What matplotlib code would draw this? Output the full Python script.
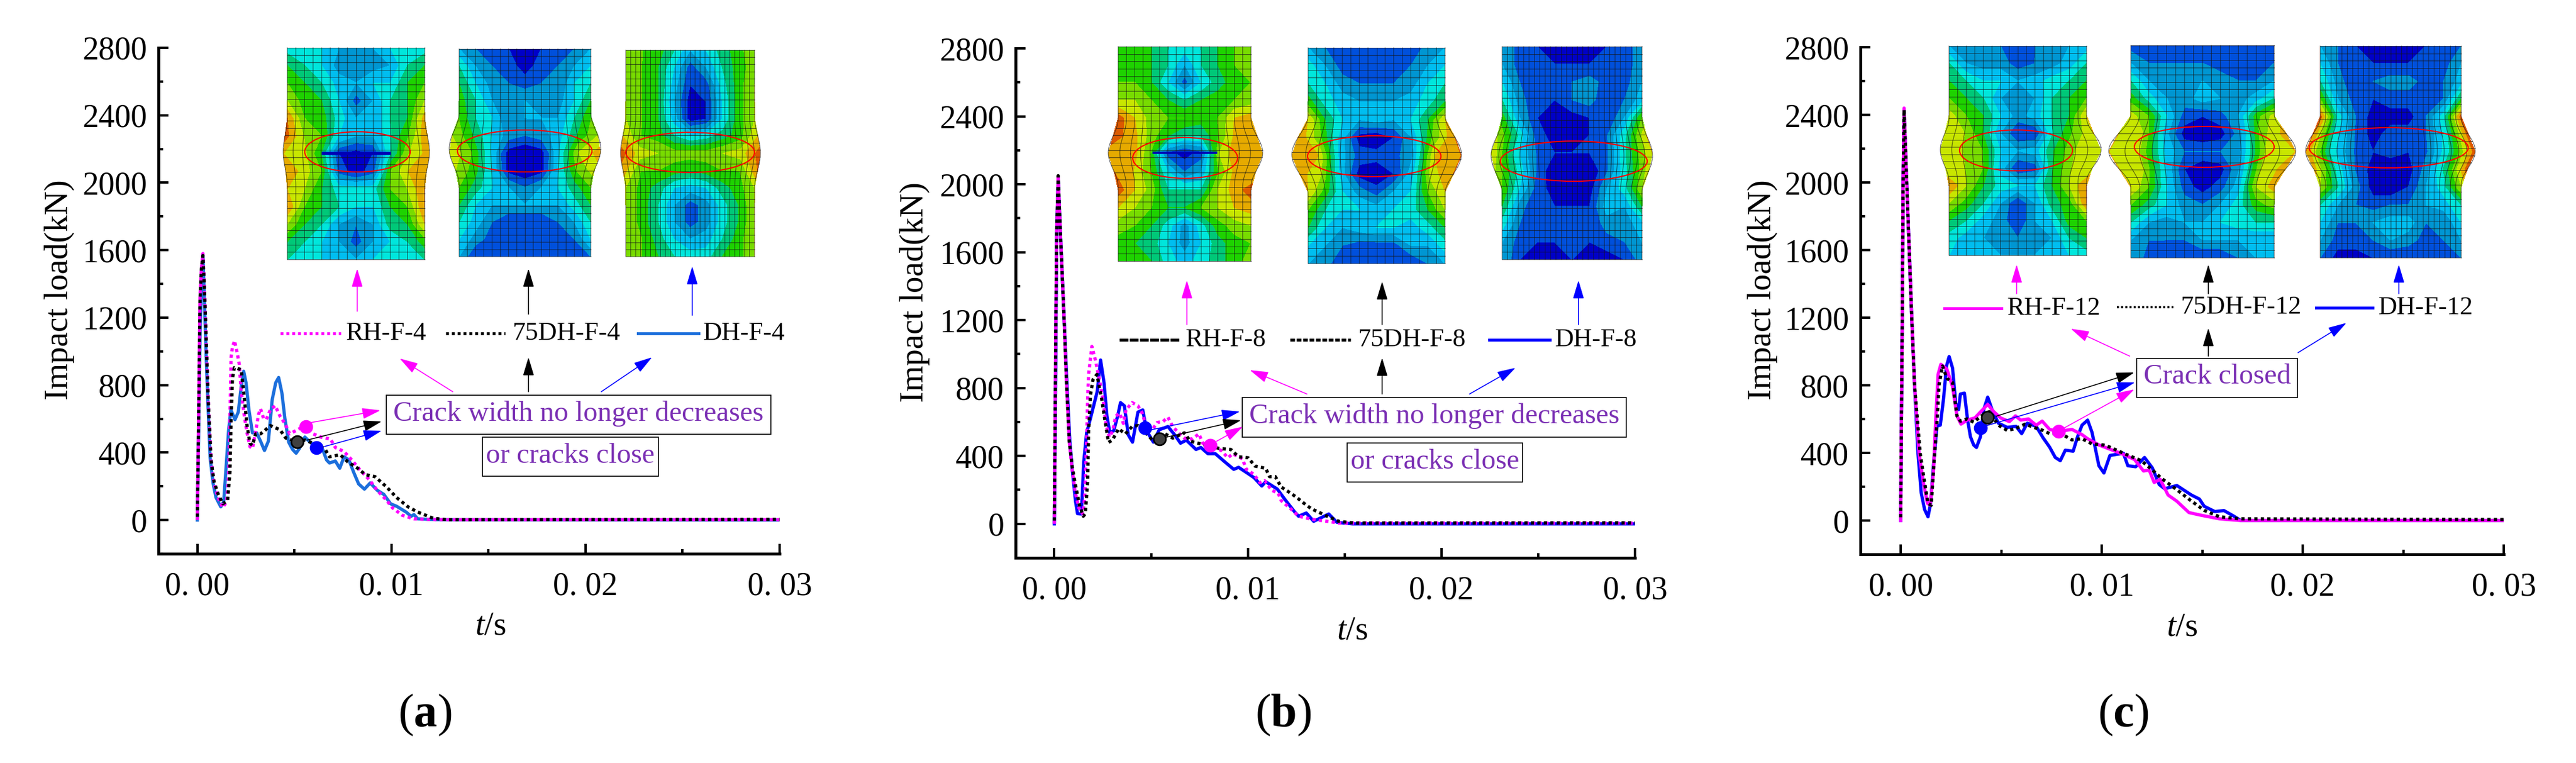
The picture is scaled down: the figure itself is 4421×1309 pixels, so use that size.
import matplotlib
matplotlib.use('Agg')
import matplotlib.pyplot as plt
import numpy as np
from matplotlib.colors import ListedColormap
from matplotlib.patches import Rectangle, Ellipse, FancyArrowPatch

plt.rcParams['font.family'] = ['Liberation Serif']
plt.rcParams['mathtext.fontset'] = 'custom'
plt.rcParams['mathtext.rm'] = 'Liberation Serif'
plt.rcParams['mathtext.it'] = 'Liberation Serif:italic'
plt.rcParams['mathtext.bf'] = 'Liberation Serif:bold'

W, H = 4421, 1309

# time in ms, load in kN
t_dh_4 = [0, .06, .14, .21, .29, .36, .46, .56, .66, .81, .96, 1.21, 1.36, 1.48, 1.61, 1.73, 1.94, 2.11, 2.26, 2.39, 2.51, 2.66, 2.84, 3.06, 3.26, 3.46, 3.66, 3.86, 4.04, 4.19, 4.36, 4.51, 4.71, 4.91, 5.09, 5.26, 5.54, 5.76, 6.14, 6.46, 6.66, 6.81, 7.11, 7.34, 7.56, 7.81, 8.06, 8.31, 8.61, 8.91, 9.26, 9.61, 9.96, 10.26, 10.76, 11.01, 11.16, 11.36, 12.36, 30]
p_dh_4 = [0, 467, 1086, 1382, 1574, 1333, 962, 653, 368, 220, 134, 78, 109, 307, 529, 653, 595, 640, 789, 882, 814, 653, 517, 517, 467, 412, 467, 715, 814, 845, 752, 603, 461, 418, 396, 424, 492, 467, 430, 418, 356, 338, 350, 307, 375, 356, 282, 214, 183, 220, 177, 152, 96, 82, 47, 22, 32, 7, 2, 0]
t_rh_4 = [0, .04, .09, .14, .21, .29, .36, .46, .56, .71, .86, 1.06, 1.31, 1.51, 1.61, 1.68, 1.74, 1.81, 1.92, 2.04, 2.16, 2.26, 2.41, 2.56, 2.71, 2.84, 3.01, 3.16, 3.26, 3.41, 3.56, 3.76, 4.01, 4.26, 4.51, 4.76, 5.16, 5.56, 5.96, 6.36, 6.86, 7.11, 7.56, 7.96, 8.36, 8.86, 9.26, 9.71, 10.06, 10.56, 11.16, 12.36, 30]
p_rh_4 = [0, 344, 838, 1333, 1492, 1580, 1396, 1062, 716, 356, 220, 134, 74, 109, 257, 593, 964, 1026, 1063, 999, 925, 764, 628, 517, 435, 424, 529, 628, 659, 603, 597, 653, 678, 616, 573, 511, 535, 560, 511, 492, 480, 430, 406, 356, 300, 239, 177, 122, 72, 28, 7, 2, 2]
t_75_4 = [0, .04, .09, .14, .21, .29, .36, .46, .56, .71, .86, 1.06, 1.31, 1.56, 1.68, 1.74, 1.81, 1.91, 2.26, 2.41, 2.56, 2.71, 2.84, 3.01, 3.26, 3.46, 3.76, 4.26, 4.56, 5.11, 5.56, 5.96, 6.56, 6.81, 7.36, 7.76, 8.26, 8.66, 9.16, 9.76, 10.26, 10.86, 11.36, 12.16, 12.86, 30]
p_75_4 = [0, 344, 838, 1308, 1492, 1568, 1396, 1062, 716, 356, 228, 158, 96, 115, 282, 593, 838, 904, 892, 737, 563, 455, 443, 511, 511, 529, 560, 535, 486, 464, 474, 455, 424, 375, 387, 344, 307, 269, 257, 195, 134, 78, 47, 10, 2, 4]

t_rh_8 = [0, .04, .08, .12, .20, .32, .50, .62, .77, .90, 1.07, 1.27, 1.47, 1.57, 1.67, 1.72, 1.77, 1.94, 2.12, 2.32, 2.52, 2.67, 2.84, 3.02, 3.17, 3.37, 3.57, 3.70, 4.02, 4.32, 4.52, 4.72, 5.02, 5.32, 5.62, 5.87, 6.12, 6.42, 6.72, 7.12, 7.47, 7.67, 8.07, 8.62, 8.97, 9.22, 9.72, 9.92, 10.32, 10.62, 10.87, 11.22, 11.57, 11.72, 12.22, 12.62, 13.3, 14.1, 14.7, 30]
p_rh_8 = [0, 600, 1200, 1711, 2050, 1700, 1222, 855, 487, 340, 192, 94, 58, 156, 487, 732, 879, 1045, 965, 855, 732, 585, 511, 548, 634, 652, 591, 671, 714, 695, 658, 585, 548, 597, 603, 628, 573, 536, 505, 499, 530, 475, 462, 432, 389, 413, 383, 321, 291, 242, 254, 199, 180, 137, 88, 45, 27, 15, 5, 4]
t_dh_8 = [0, .05, .09, .12, .20, .32, .50, .64, .80, .95, 1.1, 1.2, 1.4, 1.52, 1.67, 1.87, 2.22, 2.39, 2.57, 2.72, 2.87, 3.07, 3.27, 3.42, 3.62, 3.82, 4.04, 4.32, 4.57, 4.77, 5.12, 5.42, 5.87, 6.22, 6.52, 6.82, 7.32, 7.57, 7.94, 8.32, 8.82, 9.27, 9.52, 9.92, 10.32, 10.72, 10.92, 11.52, 11.92, 12.42, 12.62, 13.02, 13.4, 14.18, 14.6, 15.4, 30]
p_dh_8 = [0, 600, 1200, 1711, 2040, 1700, 1222, 855, 487, 290, 130, 60, 58, 364, 536, 622, 781, 965, 830, 634, 536, 548, 634, 714, 695, 524, 481, 658, 671, 548, 481, 554, 573, 524, 475, 493, 438, 450, 413, 413, 364, 321, 333, 303, 272, 223, 248, 205, 143, 70, 45, 64, 15, 58, 9, 0, 0]
t_75_8 = [0, .04, .08, .12, .20, .32, .50, .62, .77, .92, 1.1, 1.3, 1.5, 1.6, 1.72, 1.77, 1.87, 2.0, 2.2, 2.3, 2.45, 2.6, 2.8, 3.0, 3.32, 3.67, 4.02, 4.32, 4.82, 5.12, 5.72, 6.12, 6.72, 7.02, 7.62, 8.52, 9.12, 9.52, 10.02, 10.37, 10.92, 11.12, 11.42, 11.72, 12.22, 12.52, 13.02, 13.3, 14.1, 14.7, 15.5, 30]
p_75_8 = [0, 600, 1200, 1711, 2050, 1700, 1222, 855, 487, 340, 225, 110, 45, 60, 245, 540, 760, 850, 880, 820, 735, 620, 480, 493, 560, 530, 573, 579, 524, 487, 530, 505, 536, 487, 469, 444, 438, 395, 389, 340, 327, 278, 278, 217, 180, 156, 110, 88, 45, 15, 5, 6]

t_rh_12 = [0, .03, .08, .12, .17, .30, .55, .69, .91, 1.13, 1.33, 1.47, 1.63, 1.74, 1.86, 2.0, 2.3, 2.58, 2.8, 3.0, 3.3, 3.69, 4.08, 4.33, 4.63, 4.97, 5.41, 5.71, 5.97, 6.36, 6.74, 7.04, 7.41, 7.86, 8.52, 9.02, 9.3, 9.86, 10.41, 11.08, 11.63, 12.08, 12.36, 12.61, 12.91, 13.3, 13.74, 14.34, 14.95, 15.86, 16.9, 30]
p_rh_12 = [0, 500, 1200, 2000, 2440, 2000, 1200, 800, 400, 225, 102, 90, 287, 594, 865, 924, 896, 791, 619, 570, 594, 607, 656, 687, 644, 607, 585, 619, 594, 601, 564, 588, 539, 527, 539, 508, 484, 447, 422, 391, 361, 293, 299, 225, 244, 151, 114, 47, 31, 10, 0, 0]
t_dh_12 = [0, .03, .08, .12, .17, .30, .55, .69, .86, 1.02, 1.19, 1.36, 1.49, 1.63, 1.8, 1.97, 2.13, 2.28, 2.41, 2.58, 2.74, 2.88, 2.97, 3.17, 3.33, 3.47, 3.63, 3.77, 3.97, 4.13, 4.33, 4.58, 4.86, 5.3, 5.74, 6.02, 6.3, 6.74, 7.08, 7.41, 7.69, 7.94, 8.19, 8.58, 8.8, 9.02, 9.3, 9.52, 9.86, 10.11, 10.41, 11.08, 11.3, 11.69, 12.13, 12.52, 12.86, 13.13, 13.74, 14.46, 14.86, 15.1, 15.63, 16.08, 16.54, 16.92, 30]
p_dh_12 = [0, 500, 1200, 2000, 2420, 2000, 1200, 800, 398, 164, 65, 22, 102, 324, 558, 564, 718, 914, 970, 902, 693, 656, 748, 754, 594, 496, 447, 432, 496, 656, 730, 644, 576, 551, 557, 514, 576, 557, 490, 434, 373, 354, 416, 410, 496, 564, 594, 521, 324, 281, 385, 398, 324, 318, 373, 311, 213, 188, 207, 151, 127, 84, 53, 59, 28, 0, 0]
t_75_12 = [0, .03, .08, .12, .17, .30, .55, .69, .97, 1.19, 1.36, 1.52, 1.66, 1.8, 1.91, 2.08, 2.3, 2.58, 2.8, 2.97, 3.3, 3.63, 4.02, 4.41, 4.86, 5.3, 5.74, 6.19, 6.63, 7.08, 7.41, 7.97, 8.52, 9.02, 9.52, 10.08, 10.41, 11.08, 11.97, 12.52, 12.97, 13.74, 14.41, 15.1, 15.86, 16.9, 30]
p_75_12 = [0, 500, 1200, 2000, 2430, 2000, 1200, 800, 398, 225, 102, 90, 348, 570, 804, 914, 841, 816, 619, 588, 601, 582, 619, 644, 564, 533, 545, 570, 551, 533, 514, 514, 477, 484, 453, 447, 434, 398, 354, 299, 250, 182, 120, 60, 22, 10, 6]

# marked points where crack stops changing: (t ms, load kN)
mark_rh = [(5.59, 554), (8.04, 462), (7.86, 527)]
mark_75 = [(5.13, 465), (5.44, 499), (4.32, 610)]
mark_dh = [(6.14, 430), (4.69, 564), (3.96, 549)]

yticks = [0, 400, 800, 1200, 1600, 2000, 2400, 2800]
yminor = [-200, 200, 600, 1000, 1400, 1800, 2200, 2600]
xticks = [0, .01, .02, .03]
xminor = [.005, .015, .025]
xlabels = ['0. 00', '0. 01', '0. 02', '0. 03']

# stress contour levels of the inserted FE pictures, rows top to bottom
f_rh_4 = [[4.5,4.5,4,3,3,3,4,4,4.5],[6,5,4,2.5,2.5,2.5,3,5,6],[7,6,5,3.5,3,4,4,6,7],[8,6.5,6,4,1.5,3,5,6,8],[10,7,6.5,4.5,3,3,5,6,9.5],[10.5,8,7,4,3,3,5,7,10],[9,8.5,6,1,.5,1,5,8,9.5],[10,8.5,7,1.5,.5,1.5,7,9,9.5],[9,8,6,4.5,4.5,4.5,7,8,10],[10,7,6,5,4,4,6,7,10],[8,6,5,3,2,3,5.5,6,9],[6,5,4,3,1.5,3,4,5,6.5],[5,4.5,4,3.5,3,4,4.5,4.5,5]]
f_75_4 = [[3,2,1,1,.5,1,1,2,3],[5,3,2,1.5,.5,1.5,2,3,4],[6,4,2.5,2,1.5,2,2,4,5],[6.5,5,3,2,3,2.5,2.5,4,6],[7,5,4,2,3,3,3,5,7],[8,6,4,2.5,2,2.5,3.5,6,8],[9,7,4,.5,0,.5,4,8,9.5],[8,6.5,4,.5,0,.5,4,7,8.5],[7,5.5,4,3,2,3,4,5.5,7],[6,4,3,3,3,3,3,4.5,6],[5,3.5,2,1,1,1,2,3,5],[4,2.5,1.5,1,1,1,1,2,4],[3,1,1,1,1,1,1,1,2]]
f_dh_4 = [[8,7,6.5,5,3,4,5.5,6.5,8],[8,7,6,4,1.5,3,5,6.5,7.5],[8,7,6,3.5,1,1.5,4.5,6.5,8],[8,7,6,3,.5,1,4,6.5,8],[8,7,6,3.5,.5,1,4,6.5,8],[9,7,6.5,5,4,4.5,5.5,6.5,9],[10.5,8.5,8,7.5,7.5,7.5,8,8.5,10.5],[9.5,7,7,6.5,6,6.5,7,7,10],[8,6.5,5.5,4,3.5,4,5.5,6.5,8],[8,6.5,5,3,1.5,2.5,4.5,6,8],[8,6.5,5,3,1.5,2.5,4.5,6,8],[8,7,5.5,4,3,3.5,5,6.5,8],[8,7,6,5,4.5,4.5,6,6.5,8]]
f_rh_8 = [[6.5,6.5,6,5,4.5,5,6,7,7.5],[6.5,6.5,6,5,3,5,6,7,7],[7,7,6,4,1.5,4,5.5,6.5,7],[8,8,7,6,5,6,6.5,7,7.5],[10.5,9,7.5,7,7,6.5,7,9,9.5],[10.5,9.5,7.5,6,5,5,7,9.5,10],[9.5,10,7,1.5,.5,1.5,8,10,9],[10,9,7,4,2,3,7,9.5,9],[10.5,9,7.5,5,5,5,8,9.5,10.5],[9,8,7,6,6,7,8,9,9.5],[7.5,7,6,4.5,2.5,4.5,6.5,7.5,8],[6.5,6,5.5,4,2.5,4,5.5,6.5,7],[7,6.5,6,4.5,3.5,4.5,5.5,6.5,7.5]]
f_75_8 = [[3,2,1,1,1,1,1,2.5,3],[4.5,3,1.5,1,1,1,2,3,4],[5,4,2.5,2,2,2,2.5,4,5],[6.5,4.5,3.5,3,3,3,3.5,4.5,6],[9,6,4,3,3.5,3,4,6,9],[10,7,3.5,.5,0,1,3,7,10],[9.5,9,3.5,1.5,1.5,1.5,3,9,10],[9.5,8,3.5,.5,0,1,3.5,8.5,10],[9,6.5,4,2.5,1.5,3,4,7,9],[7,5,4,4,3.5,4,4.5,6,8],[6,4,3,3.5,4,4,3.5,4.5,6],[4,3,2,1.5,1.5,1.5,3,3,4.5],[3,2.5,1,1,1,1,1,2,3]]
f_dh_8 = [[3,1.5,1,.5,.5,.5,1,1.5,2.5],[3,1.5,1,1,1,1,1,1.5,2.5],[4,2,1,1.5,2,2.5,1.5,1.5,3],[5,2.5,1,1,2,2.5,1,2,3.5],[6.5,3,1,.5,.5,1,1,3,7],[8,5,1.5,.5,.5,1,2,5,9],[9,4.5,2,1,1,1,2,5.5,9],[8,5,2,0,0,0,2,5,8.5],[7,4,1.5,.5,0,.5,3,4.5,8],[6,2.5,1,1,1,1,3.5,3,6],[4.5,2,1,1,1,1,2.5,2.5,3.5],[3,1.5,1,1,1,1,1.5,2,3],[3,1,.5,.5,1,.5,.5,1,2.5]]
f_rh_12 = [[3,2.5,2,2,1,2,2,3,3.5],[5,3,2.5,2.5,1.5,2,2.5,3.5,5],[6,5,4,4,3,3.5,4.5,5,6],[7,6,5,3,2.5,3,5,6,7],[8.5,7,6,4,2.5,3.5,5,6,9],[9,8,6,3,1,1,5,7,9],[8,8,7,4,3,3.5,6,8,8.5],[8,8,7,3.5,1,1.5,6,8,8.5],[10,8,6,4.5,4,4,6,8,10],[8,6.5,5,3,1,3,5.5,6.5,10],[6,5,3.5,2.5,1,3,4,6.5,7],[4.5,3.5,3,2,2,2.5,3,5,6],[4,3,3,3,3,3,3,4,4.5]]
f_75_12 = [[1.5,1,1,1,1,1,1,1,1],[3,2,2,2,2,1.5,1.5,1.5,2],[5,3,2.5,2.5,3,2.5,2,2,3],[6.5,4.5,3,2.5,3.5,3,2.5,3.5,5],[8.5,7,4,1.5,1,1.5,3,6.5,8.5],[9,8,3.5,.5,0,.5,2.5,7.5,9.5],[9,8,4,2,2,2,3,8,9],[9,8,4,1,0,.5,3,8,9.5],[9,7,4,1.5,.5,1.5,3.5,8,9.5],[7,5.5,4,2.5,2,3,4.5,6.5,7.5],[5,3,2.5,3,3,4,4.5,5,5],[3,2,2,2,3,3,3,3,3],[3,1.5,1,1,1,1,2,3,3]]
f_dh_12 = [[3,2,1,.5,.5,.5,1,1,2],[4,2,1,1,1,1,1,1.5,3],[5,2.5,1,2,2.5,2.5,1.5,2,3.5],[7,3,1.5,1,1.5,1.5,1.5,2,6],[10.5,4.5,2,.5,.5,.5,2,4.5,10.5],[10,4.5,2,.5,1.5,1.5,2,4.5,10.5],[10,4.5,2,1,1.5,1,2,5,10.5],[9.5,5,2,.5,0,.5,2.5,5.5,10.5],[8,5,2.5,.5,0,1,3,4.5,8],[5,3,2,1.5,2,2,3,3.5,5],[4,2,2,3,3.5,3.5,2,2,4],[3,1.5,1.5,2,3,2.5,1.5,2,3],[2,.5,.5,1,1,1,1,1,2]]

fe_colors = ['#0000c8', '#0050dc', '#0096d2', '#00bef0', '#00e6dc', '#00c878', '#1ed200', '#78dc00', '#c8e600', '#e6aa00', '#dc5a00', '#dc0a00']
fe_cmap = ListedColormap(fe_colors)

MAGENTA = '#ff00ff'
BLUE_A = '#1c6fdc'
BLUE = '#0000ff'
PURPLE = '#7b30b4'


def panel_axes(l, t, r, b):
    ax = fig.add_axes([l / W, 1 - b / H, (r - l) / W, (b - t) / H])
    ax.set_xlim(-.002, .03)
    ax.set_ylim(-200, 2800)
    ax.spines['top'].set_visible(False)
    ax.spines['right'].set_visible(False)
    ax.spines['left'].set_linewidth(3.6)
    ax.spines['bottom'].set_linewidth(3.6)
    ax.set_yticks(yticks)
    ax.set_yticks(yminor, minor=True)
    ax.set_xticks(xticks)
    ax.set_xticks(xminor, minor=True)
    ax.set_xticklabels(xlabels)
    ax.tick_params(which='major', direction='in', length=12, width=3, labelsize=40)
    ax.tick_params(which='minor', direction='in', length=6, width=3)
    ax.tick_params(axis='y', pad=14)
    ax.tick_params(axis='x', pad=22)
    return ax


def curves(ax, t_dh, p_dh, t_rh, p_rh, t_75, p_75, blue, rh_style):
    ax.plot(np.array(t_dh) / 1000, p_dh, color=blue, lw=4, zorder=3)
    ax.plot(np.array(t_rh) / 1000, p_rh, color=MAGENTA, lw=4, ls=rh_style, dash_capstyle='butt', zorder=4)
    ax.plot(np.array(t_75) / 1000, p_75, color='black', lw=4, ls=(1, (1, 1)), dash_capstyle='butt', zorder=5)


def dots(ax, i):
    ax.plot(mark_rh[i][0] / 1000, mark_rh[i][1], 'o', color=MAGENTA, ms=16, zorder=6)
    ax.plot(mark_dh[i][0] / 1000, mark_dh[i][1], 'o', color=BLUE, ms=16, zorder=6)
    ax.plot(mark_75[i][0] / 1000, mark_75[i][1], 'o', mfc='#404040', mec='black', mew=2, ms=15, zorder=6)


def fe_picture(field, l, r, t, b, bl, br, yc, hb, el, er, et, eb, nx):
    # column mesh with the side bulge around the crack height
    field = np.array(field) + .01
    ny = 30
    uf = np.linspace(-1, 1, field.shape[1])
    vf = np.linspace(t, b, field.shape[0])
    xc = (l + r) / 2
    half = (r - l) / 2

    def warp(u, y):
        s = np.clip((y - yc) / hb, -1, 1)
        win = np.cos(s * np.pi / 2) ** 2
        side = np.where(u < 0, (l - bl), (br - r))
        return xc + u * half + np.abs(u) ** 3 * np.sign(u) * side * win

    U, Y = np.meshgrid(uf, vf)
    ov.contourf(warp(U, Y), Y, field, levels=np.arange(0, 13), cmap=fe_cmap, vmin=0, vmax=12, zorder=2)
    ys = np.linspace(t, b, 120)
    for u in np.linspace(-1, 1, nx):
        ov.plot(warp(u * np.ones_like(ys), ys), ys, color='#151515', lw=.8, alpha=.65, zorder=3)
    us = np.linspace(-1, 1, 60)
    for y in np.linspace(t, b, ny):
        ov.plot(warp(us, y * np.ones_like(us)), y * np.ones_like(us), color='#151515', lw=.8, alpha=.65, zorder=3)
    ov.add_patch(Ellipse(((el + er) / 2, (et + eb) / 2), er - el, eb - et, fill=False, ec='#ff0000', lw=1.5, zorder=4))


def arrow(x0, y0, x1, y1, color):
    ov.add_patch(FancyArrowPatch((x0, y0), (x1, y1), arrowstyle='-|>,head_length=15,head_width=4.5', color=color,
                                 lw=1.2, shrinkA=0, shrinkB=0, mutation_scale=1.3, zorder=7))


def legend_item(x0, x1, y, text, tx, color, ls, lw=3.6):
    ov.plot([x0, x1], [y, y], color=color, ls=ls, lw=lw, dash_capstyle='butt', zorder=5)
    ov.text(tx, y, text, fontsize=32, ha='left', va='center', color='black')


def box_text(l, t, r, b, text):
    ov.add_patch(Rectangle((l, t), r - l, b - t, fill=False, ec='black', lw=1.2, zorder=5))
    ov.text((l + r) / 2, (t + b) / 2 - 2, text, fontsize=35, color=PURPLE, ha='center', va='center')


fig = plt.figure(figsize=(W / 100, H / 100), dpi=100)

ax_a = panel_axes(272, 82, 1338, 950)
ax_b = panel_axes(1743, 83, 2806, 957)
ax_c = panel_axes(3193, 81, 4297, 951)

curves(ax_a, t_dh_4, p_dh_4, t_rh_4, p_rh_4, t_75_4, p_75_4, BLUE_A, (0, (1, 1)))
curves(ax_b, t_dh_8, p_dh_8, t_rh_8, p_rh_8, t_75_8, p_75_8, BLUE, (0, (1, 1)))
curves(ax_c, t_dh_12, p_dh_12, t_rh_12, p_rh_12, t_75_12, p_75_12, BLUE, '-')
for i, ax in enumerate([ax_a, ax_b, ax_c]):
    dots(ax, i)

ylab_x = [-.16, -.163, -.152]
xlab_x = [.535, .544, .50]
for ax, yx, xx in zip([ax_a, ax_b, ax_c], ylab_x, xlab_x):
    ax.set_ylabel('Impact load(kN)', fontsize=41, va='center')
    ax.yaxis.set_label_coords(yx, .522)
    ax.set_xlabel(r'$t$/s', fontsize=41, va='center')
    ax.xaxis.set_label_coords(xx, -.144)

# overlay in image pixels for the FE pictures, call-outs and hand drawn legend
ov = fig.add_axes([0, 0, 1, 1], zorder=10)
ov.set_xlim(0, W)
ov.set_ylim(H, 0)
ov.set_autoscale_on(False)
ov.axis('off')

fe_picture(f_rh_4, 493, 729, 82, 445, 486, 737, 260, 58, 523, 704, 226, 295, 17)
fe_picture(f_75_4, 788, 1014, 84, 440, 771, 1031, 255, 62, 785, 1016, 223, 295, 17)
fe_picture(f_dh_4, 1074, 1295, 86, 440, 1065, 1305, 262, 62, 1074, 1295, 227, 296, 27)
fe_picture(f_rh_8, 1919, 2147, 80, 448, 1902, 2167, 262, 58, 1944, 2124, 236, 306, 17)
fe_picture(f_75_8, 2245, 2480, 82, 452, 2217, 2508, 265, 68, 2244, 2473, 233, 303, 17)
fe_picture(f_dh_8, 2578, 2818, 80, 445, 2559, 2836, 267, 64, 2575, 2827, 242, 311, 27)
fe_picture(f_rh_12, 3345, 3581, 79, 438, 3330, 3606, 257, 55, 3363, 3557, 223, 293, 17)
fe_picture(f_75_12, 3657, 3903, 78, 442, 3619, 3940, 259, 64, 3663, 3903, 217, 287, 17)
fe_picture(f_dh_12, 3982, 4224, 79, 442, 3957, 4248, 259, 58, 3963, 4236, 219, 288, 27)

# crack slot in the RH pictures
ov.plot([555, 668], [263, 263], color='#0000b4', lw=4, zorder=4)
ov.plot([1980, 2087], [262, 262], color='#0000b4', lw=3, zorder=4)

dotted = (0, (1, 1))
legend_item(481, 585, 572, 'RH-F-4', 594, MAGENTA, dotted)
legend_item(765, 867, 572, '75DH-F-4', 879, 'black', dotted)
legend_item(1095, 1199, 572, 'DH-F-4', 1207, BLUE_A, '-')
legend_item(1921, 2025, 583, 'RH-F-8', 2035, 'black', (0, (3, .5)))
legend_item(2214, 2318, 583, '75DH-F-8', 2330, 'black', (0, (1.6, .6)))
legend_item(2556, 2660, 583, 'DH-F-8', 2669, BLUE, '-')
legend_item(3337, 3435, 529, 'RH-F-12', 3445, MAGENTA, '-')
legend_item(3633, 3730, 527, '75DH-F-12', 3742, 'black', dotted, 2.6)
legend_item(3975, 4072, 528, 'DH-F-12', 4082, BLUE, '-')

box_text(663, 678, 1323, 745, 'Crack width no longer decreases')
box_text(828, 750, 1130, 817, 'or cracks close')
box_text(2132, 682, 2791, 750, 'Crack width no longer decreases')
box_text(2312, 760, 2613, 827, 'or cracks close')
box_text(3667, 615, 3943, 682, 'Crack closed')

# arrows: legend to picture, box to legend, marked point to box
arrow(613, 534, 613, 461, MAGENTA)
arrow(907, 539, 907, 461, 'black')
arrow(1188, 541, 1188, 457, BLUE)
arrow(777, 672, 686, 615, MAGENTA)
arrow(907, 672, 907, 613, 'black')
arrow(1032, 672, 1119, 613, BLUE)
arrow(533, 725, 653, 704, MAGENTA)
arrow(527, 755, 655, 723, 'black')
arrow(557, 766, 655, 739, BLUE)

arrow(2037, 557, 2037, 481, MAGENTA)
arrow(2372, 557, 2372, 483, 'black')
arrow(2709, 557, 2709, 481, BLUE)
arrow(2243, 676, 2145, 635, MAGENTA)
arrow(2372, 676, 2372, 614, 'black')
arrow(2522, 676, 2601, 631, BLUE)
arrow(1977, 737, 2128, 706, BLUE)
arrow(2002, 750, 2130, 721, 'black')
arrow(2088, 757, 2133, 732, MAGENTA)

arrow(3461, 504, 3461, 454, MAGENTA)
arrow(3790, 504, 3790, 454, 'black')
arrow(4117, 504, 4117, 454, BLUE)
arrow(3655, 611, 3554, 564, MAGENTA)
arrow(3790, 611, 3790, 563, 'black')
arrow(3944, 605, 4027, 554, BLUE)
arrow(3426, 714, 3663, 639, 'black')
arrow(3410, 730, 3664, 656, BLUE)
arrow(3543, 734, 3663, 668, MAGENTA)

ov.text(729, 1227, r'($\mathbf{a}$)', fontsize=58, ha='center', va='center')
ov.text(2202, 1227, r'($\mathbf{b}$)', fontsize=58, ha='center', va='center')
ov.text(3644, 1227, r'($\mathbf{c}$)', fontsize=58, ha='center', va='center')

fig.savefig('out.png', dpi=100)
